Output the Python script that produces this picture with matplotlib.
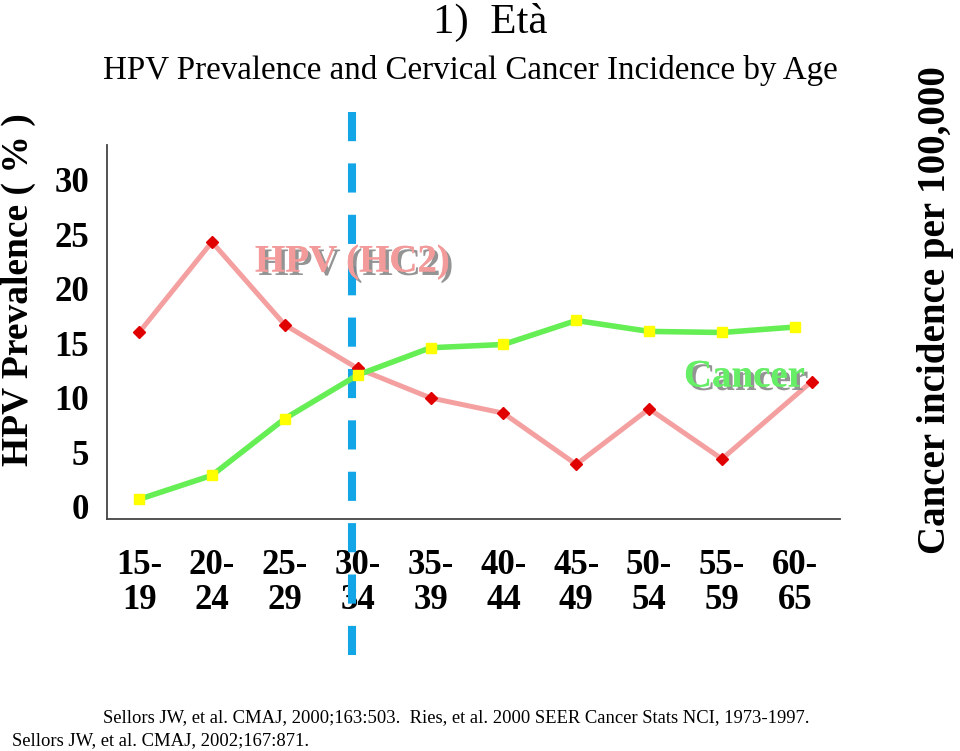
import numpy as np
import matplotlib
matplotlib.use("Agg")
import matplotlib.pyplot as plt
import matplotlib.patheffects as pe

# data
age_groups = ["15-\n19", "20-\n24", "25-\n29", "30-\n34", "35-\n39",
              "40-\n44", "45-\n49", "50-\n54", "55-\n59", "60-\n65"]
hpv_x = [0, 1, 2, 3, 4, 5, 6, 7, 8, 9.23]
hpv_prev = [16.0, 24.3, 16.7, 12.7, 10.0, 8.6, 3.9, 9.0, 4.4, 11.5]
cancer_inc = [0.7, 2.9, 8.1, 12.1, 14.6, 14.9, 17.1, 16.1, 16.0, 16.5]
y_ticks = [0, 5, 10, 15, 20, 25, 30]
cutoff_age = 2.92  # position of the dashed marker between 25-29 and 30-34

plt.rcParams['font.family'] = ['Liberation Serif', 'DejaVu Serif']
plt.rcParams['lines.scale_dashes'] = False

fig = plt.figure(figsize=(9.6, 7.51), dpi=100)
ax = fig.add_axes([0.1115, 0.309, 0.7635, 0.498])
x = np.arange(len(age_groups))

ax.set_xlim(-0.44, 9.62)
ax.set_ylim(-1.1, 33.2)
ax.set_xticks(x)
ax.set_xticklabels(age_groups, fontsize=25, fontweight='bold', linespacing=1.08)
ax.set_yticks(y_ticks)
ax.set_yticklabels([str(v) for v in y_ticks], fontsize=25, fontweight='bold')
ax.tick_params(axis='both', length=0)
ax.tick_params(axis='x', pad=22)
ax.tick_params(axis='y', pad=13)
for s in ['top', 'right']:
    ax.spines[s].set_visible(False)
for s in ['left', 'bottom']:
    ax.spines[s].set_color('#444444')
    ax.spines[s].set_linewidth(1.3)

# blue dashed cut-off line, running past the axes
trans = ax.get_xaxis_transform()
ax.plot([cutoff_age, cutoff_age], [1.088, -0.364], transform=trans,
        color='#13a6e6', lw=5.8, dashes=(21, 16), clip_on=False, zorder=3,
        solid_capstyle='butt', dash_capstyle='butt')

# HPV prevalence (left axis)
ax.plot(hpv_x, hpv_prev, color='#f4a0a0', lw=3.6, zorder=4,
        marker='D', markersize=6, markerfacecolor='#e00000',
        markeredgecolor='#e00000')

# cancer incidence (right axis, no scale shown)
ax2 = ax.twinx()
ax2.set_ylim(-1.1, 33.2)
ax2.set_yticks([])
for s in ax2.spines.values():
    s.set_visible(False)
ax2.plot(x, cancer_inc, color='#66ee55', lw=4, zorder=4,
         marker='s', markersize=6.5, markerfacecolor='#ffff00',
         markeredgecolor='#ffff00')

shadow = [pe.withSimplePatchShadow(offset=(2.5, -2.5), shadow_rgbFace='#888888', alpha=0.9),
          pe.Normal()]
fig.text(255 / 960, 1 - 262 / 751, "HPV (HC2)", fontsize=28, fontweight='bold',
         color='#f39b9b', ha='left', va='center', path_effects=shadow)
fig.text(684 / 960, 1 - 377 / 751, "Cancer", fontsize=28, fontweight='bold',
         color='#66ee66', ha='left', va='center', path_effects=shadow)

fig.text(18 / 960, 1 - 290 / 751, "HPV Prevalence ( % )", fontsize=27,
         fontweight='bold', rotation=90, ha='center', va='center')
fig.text(935 / 960, 1 - 310 / 751, "Cancer incidence per 100,000", fontsize=28,
         fontweight='bold', rotation=90, ha='center', va='center')

fig.text(490 / 960, 1 - 22 / 751, "1)  Età", fontsize=31, ha='center', va='center')
fig.text(470 / 960, 1 - 70 / 751, "HPV Prevalence and Cervical Cancer Incidence by Age",
         fontsize=23.8, ha='center', va='center')

fig.text(103 / 960, 1 - 718 / 751,
         "Sellors JW, et al. CMAJ, 2000;163:503.  Ries, et al. 2000 SEER Cancer Stats NCI, 1973-1997.",
         fontsize=13.4, ha='left', va='center')
fig.text(12 / 960, 1 - 741 / 751, "Sellors JW, et al. CMAJ, 2002;167:871.",
         fontsize=13.4, ha='left', va='center')

fig.savefig("out.png", dpi=100)
